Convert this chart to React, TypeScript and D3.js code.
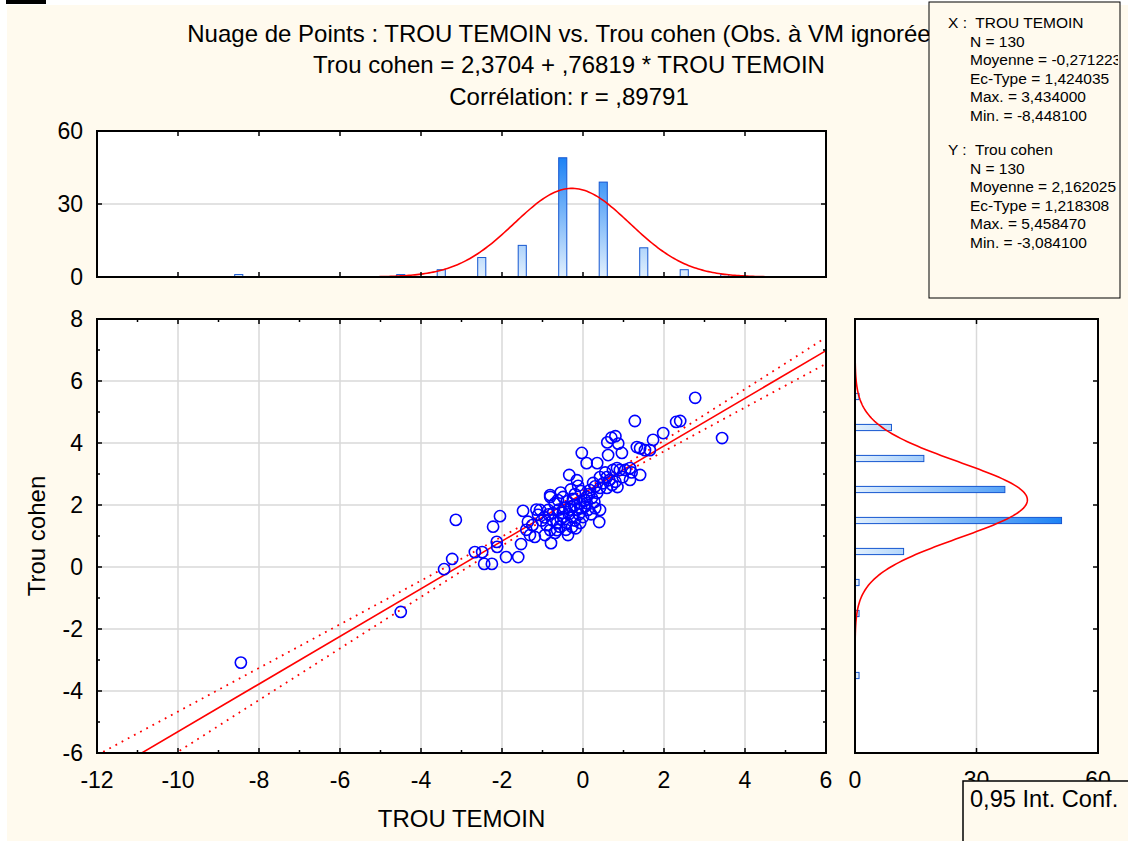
import React from 'react';
import * as d3 from 'd3';

// ---------- data ----------
const trouTemoin = [
  -8.448, -4.5, -3.43, -3.23, -3.14,
  -2.67, -2.49, -2.44, -2.25, -2.13, -2.12, -2.22, -2.05,
  -1.9, -1.6, -1.53, -1.48, -1.36, -1.31, -1.19, -1.06, -1.11, -1.25, -1.4, -1.02, -1.15,
  // [-1,0)
  -0.03, -0.79,
  -0.81, -0.81, -0.62, -0.49, -0.34, -0.07, -0.55, -0.3, -0.2, -0.12, -0.4, -0.7, -0.25, -0.05, -0.15,
  -0.94, -0.86, -0.64, -0.37, -0.74, -0.64, -0.81, -0.69, -0.4, -0.25, -0.15, -0.07, -0.27, -0.95, -0.9, -0.55,
  -0.5, -0.45, -0.35, -0.3, -0.2, -0.1, -0.6, -0.75, -0.58, -0.42, -0.18, -0.05, -0.33, -0.48, -0.85, -0.22,
  // [0,1)
  0.09, 0.35, 0.62, 0.96, 0.87, 0.84, 0.74, 0.91, 0.55,
  0.6, 0.7, 0.8,
  0.4, 0.42, 0.12, 0.0, 0.2, 0.05, 0.3,
  0.09, 0.17, 0.25, 0.42, 0.59, 0.98, 0.72, 0.59, 0.42, 0.35, 0.22, 0.09, 0.8, 0.65, 0.5, 0.3, 0.15, 0.05, 0.85, 0.28,
  // >= 1
  1.28, 1.98, 1.73, 2.3, 2.4, 3.434, 2.77, 1.33, 1.41, 1.53, 1.65, 1.16, 1.04, 1.2, 1.41, 1.16,
];
const trouCohen = [
  -3.084, -1.45, -0.07, 0.26, 1.52,
  0.48, 0.48, 0.1, 0.1, 0.81, 0.65, 1.3, 1.64,
  0.32, 0.32, 0.74, 1.81, 1.46, 1.03, 0.97, 1.84, 1.68, 1.35, 1.2, 1.5, 1.85,
  3.68, 0.77,
  2.26, 2.32, 2.16, 2.26, 2.97, 2.06, 2.4, 2.5, 2.35, 2.62, 2.12, 2.05, 2.2, 2.45, 2.8,
  1.03, 1.84, 1.19, 1.03, 1.74, 1.42, 1.19, 1.1, 1.42, 1.61, 1.84, 1.42, 1.29, 1.6, 1.35, 1.55,
  1.75, 1.9, 1.7, 1.95, 1.5, 1.7, 1.85, 1.5, 1.3, 1.2, 1.25, 1.9, 1.85, 1.62, 1.7, 1.98,
  3.35, 3.35, 3.61, 3.68, 3.98, 3.19, 3.13, 3.13, 3.05,
  4.02, 4.17, 4.22,
  1.45, 1.84, 1.84, 1.61, 1.7, 1.95, 1.9,
  2.26, 2.48, 2.71, 2.9, 2.9, 2.9, 2.65, 2.55, 2.55, 2.39, 2.23, 2.06, 2.75, 2.8, 2.7, 2.6, 2.35, 2.15, 2.58, 2.1,
  4.71, 4.32, 4.1, 4.68, 4.71, 4.16, 5.458, 3.87, 3.83, 3.77, 3.77, 3.19, 3.13, 3.05, 2.97, 2.81,
];

// histogram of TROU TEMOIN (bin centres, counts)
const xBinCenters = [-8.5, -4.5, -3.5, -2.5, -1.5, -0.5, 0.5, 1.5, 2.5, 3.5];
const xBinCounts = [1, 1, 3, 8, 13, 49, 39, 12, 3, 1];
// histogram of Trou cohen
const yBinCenters = [5.5, 4.5, 3.5, 2.5, 1.5, 0.5, -0.5, -1.5, -3.5];
const yBinCounts = [1, 9, 17, 37, 51, 12, 1, 1, 1];

// descriptive statistics shown in the box
const N = 130;
const meanX = -0.271223, sdX = 1.424035;
const meanY = 2.162025, sdY = 1.218308;
const intercept = 2.3704, slope = 0.76819, corr = 0.89791;
const tCrit = 1.9787;

const titleLines = [
  'Nuage de Points : TROU TEMOIN vs. Trou cohen (Obs. à VM ignorées)',
  'Trou cohen = 2,3704 + ,76819 * TROU TEMOIN',
  'Corrélation: r = ,89791',
];
const statsX = ['N = 130', 'Moyenne = -0,271223', 'Ec-Type = 1,424035', 'Max. = 3,434000', 'Min. = -8,448100'];
const statsY = ['N = 130', 'Moyenne = 2,162025', 'Ec-Type = 1,218308', 'Max. = 5,458470', 'Min. = -3,084100'];

const xMajor = [-12, -10, -8, -6, -4, -2, 0, 2, 4, 6];
const yMajor = [-6, -4, -2, 0, 2, 4, 6, 8];
const countTicks = [0, 30, 60];

// ---------- layout ----------
const W = 1128, H = 841;
const SX0 = 97, SX1 = 826, SY0 = 319, SY1 = 753;
const TY0 = 131, TY1 = 277;
const RX0 = 855, RX1 = 1098;
const FONT = '"Liberation Sans", Arial, sans-serif';
const BG = '#fffaee';

export default function App() {
  const x = d3.scaleLinear().domain([-12, 6]).range([SX0, SX1]);
  const y = d3.scaleLinear().domain([-6, 8]).range([SY1, SY0]);
  const hTop = d3.scaleLinear().domain([0, 60]).range([TY1, TY0]);
  const hRight = d3.scaleLinear().domain([0, 60]).range([RX0, RX1]);

  const xMinor = d3.range(-11, 6, 2);
  const yMinor = d3.range(-5, 8, 2);

  // regression + confidence band
  const sRes = sdY * Math.sqrt((1 - corr * corr) * (N - 1) / (N - 2));
  const sxx = (N - 1) * sdX * sdX;
  const xs = d3.range(-12, 6.001, 0.1);
  const band = (sign: number) => d3.line<number>()
    .x(v => x(v))
    .y(v => y(intercept + slope * v + sign * tCrit * sRes * Math.sqrt(1 / N + (v - meanX) ** 2 / sxx)))(xs);
  const regLine = d3.line<number>().x(v => x(v)).y(v => y(intercept + slope * v))([-12, 6]);

  const dens = (v: number, m: number, s: number) => N * Math.exp(-0.5 * ((v - m) / s) ** 2) / (s * Math.sqrt(2 * Math.PI));
  const topCurve = d3.line<number>().x(v => x(v)).y(v => hTop(dens(v, meanX, sdX)))(d3.range(-12, 6.001, 0.05));
  const rightCurve = d3.line<number>().x(v => hRight(dens(v, meanY, sdY))).y(v => y(v))(d3.range(-6, 8.001, 0.05));

  const topBarW = (x(1) - x(0)) * 0.2;
  const rightBarH = (y(0) - y(1)) * 0.2;
  const maxTop = d3.max(xBinCounts) as number;
  const maxRight = d3.max(yBinCounts) as number;

  const tickStyle = { stroke: '#000', strokeWidth: 1.5 };
  const grid = '#d9d9d9';

  return (
    <svg width={W} height={H} style={{ position: 'absolute', left: 0, top: 0 }} fontFamily={FONT}>
      <defs>
        <linearGradient id="gTop" gradientUnits="userSpaceOnUse" x1={0} y1={hTop(0)} x2={0} y2={hTop(maxTop)}>
          <stop offset="0" stopColor="#e2f0fd" />
          <stop offset="1" stopColor="#1c82f5" />
        </linearGradient>
        <linearGradient id="gRight" gradientUnits="userSpaceOnUse" x1={hRight(0)} y1={0} x2={hRight(maxRight)} y2={0}>
          <stop offset="0" stopColor="#e2f0fd" />
          <stop offset="1" stopColor="#1c82f5" />
        </linearGradient>
        <clipPath id="cScatter"><rect x={SX0} y={SY0} width={SX1 - SX0} height={SY1 - SY0} /></clipPath>
        <clipPath id="cTop"><rect x={SX0} y={TY0} width={SX1 - SX0} height={TY1 - TY0} /></clipPath>
        <clipPath id="cRight"><rect x={RX0} y={SY0} width={RX1 - RX0} height={SY1 - SY0} /></clipPath>
        <clipPath id="cStats"><rect x={929} y={0} width={189} height={298} /></clipPath>
      </defs>
      <rect x={0} y={0} width={W} height={H} fill="#fff" />
      <rect x={7} y={5} width={W - 7} height={H - 5} fill={BG} />
      <rect x={6} y={0} width={40} height={4} fill="#000" />

      {/* titles */}
      {titleLines.map((t, i) => (
        <text key={i} x={569} y={41.5 + i * 31.5} textAnchor="middle" fontSize={24} fill="#000">{t}</text>
      ))}

      {/* ---------- top histogram ---------- */}
      <rect x={SX0} y={TY0} width={SX1 - SX0} height={TY1 - TY0} fill="#fff" />
      <line x1={SX0} x2={SX1} y1={hTop(30)} y2={hTop(30)} stroke={grid} strokeWidth={1.5} />
      {xBinCenters.map((c, i) => (
        <rect key={i} x={x(c) - topBarW / 2} y={hTop(xBinCounts[i])} width={topBarW}
          height={hTop(0) - hTop(xBinCounts[i])} fill="url(#gTop)" stroke="#1556d0" strokeWidth={1} />
      ))}
      <path d={topCurve || ''} fill="none" stroke="#ff0000" strokeWidth={1.6} clipPath="url(#cTop)" />
      {xMajor.map(v => (
        <g key={v}>
          <line x1={x(v)} x2={x(v)} y1={TY0} y2={TY0 + 5} {...tickStyle} />
          <line x1={x(v)} x2={x(v)} y1={TY1} y2={TY1 - 5} {...tickStyle} />
        </g>
      ))}
      {countTicks.map(v => (
        <g key={v}>
          <line x1={SX0} x2={SX0 + 5} y1={hTop(v)} y2={hTop(v)} {...tickStyle} />
          <line x1={SX1} x2={SX1 - 5} y1={hTop(v)} y2={hTop(v)} {...tickStyle} />
          <text x={83} y={hTop(v) + 8.2} textAnchor="end" fontSize={23}>{v}</text>
        </g>
      ))}
      <rect x={SX0} y={TY0} width={SX1 - SX0} height={TY1 - TY0} fill="none" stroke="#000" strokeWidth={2} />

      {/* ---------- scatter ---------- */}
      <rect x={SX0} y={SY0} width={SX1 - SX0} height={SY1 - SY0} fill="#fff" />
      {xMajor.slice(1, -1).map(v => (
        <line key={v} x1={x(v)} x2={x(v)} y1={SY0} y2={SY1} stroke={grid} strokeWidth={1.5} />
      ))}
      {yMajor.slice(1, -1).map(v => (
        <line key={v} x1={SX0} x2={SX1} y1={y(v)} y2={y(v)} stroke={grid} strokeWidth={1.5} />
      ))}
      <g clipPath="url(#cScatter)">
        <path d={band(1) || ''} fill="none" stroke="#ff0000" strokeWidth={1.8} strokeDasharray="1.8 5.2" />
        <path d={band(-1) || ''} fill="none" stroke="#ff0000" strokeWidth={1.8} strokeDasharray="1.8 5.2" />
        <path d={regLine || ''} fill="none" stroke="#ff0000" strokeWidth={1.6} />
        {trouTemoin.map((v, i) => (
          <circle key={i} cx={x(v)} cy={y(trouCohen[i])} r={5.6} fill="none" stroke="#0000ff" strokeWidth={1.6} />
        ))}
      </g>
      {xMajor.map(v => (
        <g key={v}>
          <line x1={x(v)} x2={x(v)} y1={SY1} y2={SY1 - 5} {...tickStyle} />
          <line x1={x(v)} x2={x(v)} y1={SY0} y2={SY0 + 5} {...tickStyle} />
          <text x={x(v)} y={787.5} textAnchor="middle" fontSize={23}>{v}</text>
        </g>
      ))}
      {xMinor.map(v => (
        <g key={v}>
          <line x1={x(v)} x2={x(v)} y1={SY1} y2={SY1 - 3} {...tickStyle} />
          <line x1={x(v)} x2={x(v)} y1={SY0} y2={SY0 + 3} {...tickStyle} />
        </g>
      ))}
      {yMajor.map(v => (
        <g key={v}>
          <line x1={SX0} x2={SX0 + 5} y1={y(v)} y2={y(v)} {...tickStyle} />
          <line x1={SX1} x2={SX1 - 5} y1={y(v)} y2={y(v)} {...tickStyle} />
          <text x={83} y={y(v) + 8.2} textAnchor="end" fontSize={23}>{v}</text>
        </g>
      ))}
      {yMinor.map(v => (
        <g key={v}>
          <line x1={SX0} x2={SX0 + 3} y1={y(v)} y2={y(v)} {...tickStyle} />
          <line x1={SX1} x2={SX1 - 3} y1={y(v)} y2={y(v)} {...tickStyle} />
        </g>
      ))}
      <rect x={SX0} y={SY0} width={SX1 - SX0} height={SY1 - SY0} fill="none" stroke="#000" strokeWidth={2} />
      <text x={461.5} y={827} textAnchor="middle" fontSize={24}>TROU TEMOIN</text>
      <text transform={`translate(45,${(SY0 + SY1) / 2}) rotate(-90)`} textAnchor="middle" fontSize={24}>Trou cohen</text>

      {/* ---------- right histogram ---------- */}
      <rect x={RX0} y={SY0} width={RX1 - RX0} height={SY1 - SY0} fill="#fff" />
      <line x1={hRight(30)} x2={hRight(30)} y1={SY0} y2={SY1} stroke={grid} strokeWidth={1.5} />
      {yBinCenters.map((c, i) => (
        <rect key={i} x={hRight(0)} y={y(c) - rightBarH / 2} width={hRight(yBinCounts[i]) - hRight(0)}
          height={rightBarH} fill="url(#gRight)" stroke="#1556d0" strokeWidth={1} />
      ))}
      <path d={rightCurve || ''} fill="none" stroke="#ff0000" strokeWidth={1.6} clipPath="url(#cRight)" />
      {yMajor.map(v => (
        <g key={v}>
          <line x1={RX1} x2={RX1 - 5} y1={y(v)} y2={y(v)} {...tickStyle} />
        </g>
      ))}
      {countTicks.map(v => (
        <g key={v}>
          <line x1={hRight(v)} x2={hRight(v)} y1={SY1} y2={SY1 - 5} {...tickStyle} />
          <line x1={hRight(v)} x2={hRight(v)} y1={SY0} y2={SY0 + 5} {...tickStyle} />
          <text x={hRight(v)} y={787.5} textAnchor="middle" fontSize={23}>{v}</text>
        </g>
      ))}
      <rect x={RX0} y={SY0} width={RX1 - RX0} height={SY1 - SY0} fill="none" stroke="#000" strokeWidth={2} />

      {/* ---------- stats box ---------- */}
      <rect x={929} y={2} width={191} height={296} fill={BG} stroke="#000" strokeWidth={1} />
      <g clipPath="url(#cStats)" fontSize={15.5}>
        <text x={948} y={28} xmlSpace="preserve">{'X :  TROU TEMOIN'}</text>
        {statsX.map((t, i) => <text key={i} x={970} y={28 + (i + 1) * 18.5}>{t}</text>)}
        <text x={948} y={155} xmlSpace="preserve">{'Y :  Trou cohen'}</text>
        {statsY.map((t, i) => <text key={i} x={970} y={155 + (i + 1) * 18.6}>{t}</text>)}
      </g>

      {/* ---------- legend box ---------- */}
      <rect x={963} y={781} width={200} height={100} fill={BG} stroke="#000" strokeWidth={1.5} />
      <text x={970} y={807} fontSize={23.6}>0,95 Int. Conf.</text>
    </svg>
  );
}
